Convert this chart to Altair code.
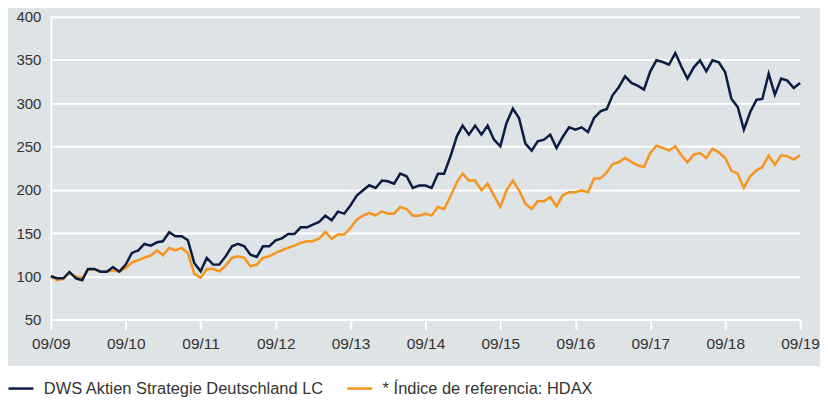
import altair as alt
import pandas as pd

# ---- data (monthly 09/2009 .. 09/2019) ----
series_names = ["DWS Aktien Strategie Deutschland LC", "* Índice de referencia: HDAX"]
series_colors = ["#0b1d45", "#f7941d"]

dates = pd.date_range("2009-09-01", periods=121, freq="MS")

dws = [100, 97.7, 97.7, 105, 97.7, 95.4, 108.5, 108.5, 105.4, 105.4, 110.8, 105.4,
       113.5, 127, 130, 137.4, 135.5, 139.3, 140.5, 150.9, 146.3, 146.3, 141.6, 115.5,
       105.8, 121.3, 113.5, 113.5, 123, 134.7, 137.4, 134.7, 125, 122.4, 134.7, 134.7,
       141.6, 143.9, 148.9, 148.9, 156.6, 156.6, 159.7, 162.8, 170.1, 164.7, 174.7, 172.4,
       182.1, 193.2, 199.4, 205.2, 202.1, 210.6, 209.8, 207.1, 218.6, 215.6, 202.1, 204.8,
       204.8, 202.1, 218.6, 218.6, 238.7, 261.8, 274.1, 263.7, 274.1, 263.7, 274.1, 257.9,
       250.2, 277.2, 293.7, 283, 253.3, 245.2, 256, 257.9, 263.7, 248.3, 261, 272.2,
       269.5, 272.2, 266.8, 283, 290.7, 293.3, 309.1, 318.8, 331.1, 323.4, 320.3, 315.7,
       336.9, 349.6, 347.6, 344.6, 358, 341.5, 328.4, 341.5, 349.6, 336.9, 349.6, 347.3,
       335.7, 305.3, 295.6, 269.5, 289.9, 304.1, 304.9, 334.2, 309.9, 328.4, 326.1, 317.6,
       323.4]

hdax = [100, 95.4, 97, 104, 99.7, 97.7, 108, 108, 105.4, 105.4, 107, 105.4,
        109.7, 116, 118.5, 121.6, 124, 130, 124.3, 132.8, 130, 132.8, 127, 103.1,
        98.2, 108.5, 108.5, 105.8, 112.4, 121.3, 123.1, 121.3, 111.6, 113.5, 121.3, 123.1,
        127, 130.1, 132.8, 135.5, 138.6, 140.5, 140.5, 143.6, 151.3, 143.2, 148.2, 148.2,
        155.9, 165.5, 170.1, 173.2, 170.1, 175.1, 172.4, 172.4, 180.1, 177.8, 170.1, 170.1,
        172.4, 170.1, 180.1, 177.8, 192.5, 208.6, 218.6, 210.6, 210.6, 199.4, 207.1, 193.2,
        180.1, 199.4, 210.6, 199.4, 184, 177.8, 186.7, 186.7, 191.7, 180.9, 193.6, 197.1,
        197.1, 199.4, 197.1, 212.9, 212.9, 220.2, 229.8, 232.1, 236.7, 232.1, 228.3, 226.3,
        242.5, 251, 248.3, 245.2, 250.2, 239.4, 231.7, 240.6, 242.5, 236.7, 247.5, 243.3,
        236.7, 222.1, 218.6, 202.1, 215.6, 222.5, 226.3, 239.4, 229, 239.8, 238.7, 234.8,
        239.8]

y_ticks = [50, 100, 150, 200, 250, 300, 350, 400]
tick_years = list(range(2009, 2020))

df = pd.concat([
    pd.DataFrame({"date": dates, "value": hdax, "series": series_names[1]}),
    pd.DataFrame({"date": dates, "value": dws, "series": series_names[0]}),
], ignore_index=True)

FONT = "Liberation Sans"
TXT = "#333333"
GREY = "#dee3e6"

x_enc = alt.X(
    "date:T",
    scale=alt.Scale(domain=[alt.DateTime(year=2009, month=9, date=1),
                            alt.DateTime(year=2019, month=9, date=1)]),
    axis=alt.Axis(
        values=[alt.DateTime(year=y, month=9, date=1) for y in tick_years],
        format="%m/%y", grid=False, domainColor="white", domainWidth=2,
        tickColor="white", tickWidth=2, tickSize=10, labelPadding=7,
        labelFontSize=15.5, labelFont=FONT, labelColor=TXT, labelFlush=False,
        labelOverlap=False, title=None),
)
y_enc = alt.Y(
    "value:Q",
    scale=alt.Scale(domain=[50, 400], nice=False, zero=False),
    axis=alt.Axis(values=y_ticks, grid=True, gridColor="white", gridWidth=2,
                  domainColor="white", domainWidth=2, ticks=False, labelPadding=10,
                  labelFontSize=15, labelFont=FONT, labelColor=TXT, title=None),
)
color_enc = alt.Color(
    "series:N",
    scale=alt.Scale(domain=series_names, range=series_colors),
    legend=alt.Legend(
        title=None, orient="none", legendX=-44, legendY=359, direction="horizontal",
        symbolType="stroke", symbolSize=625, symbolStrokeWidth=2.5, labelOffset=9,
        columnPadding=17, labelFont=FONT, labelFontSize=16.5, labelColor=TXT,
        labelLimit=400),
)

base = alt.Chart(df)

white_band = base.mark_rect(color="white", clip=False).encode(
    x=alt.value(-60), x2=alt.value(800), y=alt.value(351), y2=alt.value(420)
)

line_hdax = base.transform_filter(alt.datum.series == series_names[1]).mark_line(
    strokeWidth=2.5).encode(x=x_enc, y=y_enc, color=color_enc)
line_dws = base.transform_filter(alt.datum.series == series_names[0]).mark_line(
    strokeWidth=2.5).encode(x=x_enc, y=y_enc, color=color_enc)

chart = alt.layer(white_band, line_hdax, line_dws).properties(
    width=752, height=304,
    autosize=alt.AutoSizeParams(type="none"),
    padding={"left": 43, "top": 8, "right": 20, "bottom": 81},
    background=GREY,
).configure_view(stroke="transparent")

chart.save("out.html", embed_options={"renderer": "svg", "actions": False})
